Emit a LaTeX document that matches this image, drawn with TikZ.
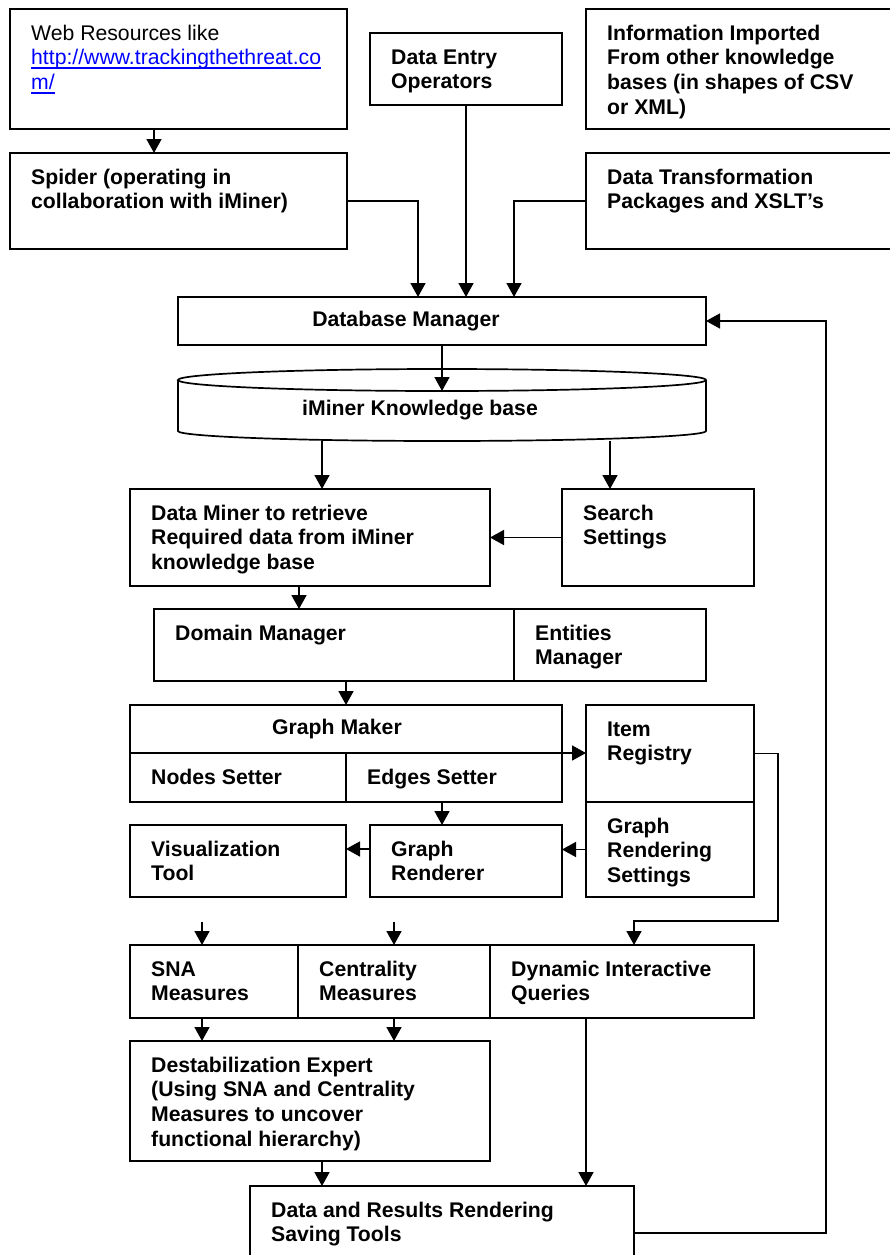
\documentclass[tikz,border=0pt]{standalone}
\usepackage{fontspec}
\setmainfont{Liberation Sans}
\usetikzlibrary{arrows.meta}
\definecolor{urlblue}{RGB}{0,0,255}
% box from (x1,y1) to (x2,y2), y measured downwards
\newcommand\blk[5]{\node[box, minimum width={(#4-#2)*1pt}, minimum height={(#5-#3)*1pt}] (#1) at ({(#2+#4)/2},{(#3+#5)/2}) {};}
% top-left label inside a box
\newcommand\lab[2]{\node[lbl] (#1-t) at ([xshift=21pt,yshift=-15pt]#1.north west) {\rule{0pt}{16pt}#2};}
% hyperlink-like underline crossing the descenders
\newcommand\ulink[1]{\setbox0\hbox{#1}\rlap{\rule[-4pt]{\wd0}{1.4pt}}\box0}
\tikzset{
  box/.style={draw, line width=1.7pt, inner sep=0pt, outer sep=0pt},
  lbl/.style={font=\bfseries\fontsize{21.2}{24.7}\selectfont, align=left, inner sep=0pt, anchor=north west},
  ctr/.style={font=\bfseries\fontsize{21.2}{24.7}\selectfont, inner sep=0pt},
  arr/.style={line width=1.6pt, -{Triangle[length=14pt,width=15pt]}}
}
\begin{document}
\begin{tikzpicture}[x=1pt, y=-1pt]
\fill[white] (0,0) rectangle (889,1255);
\useasboundingbox (0,0) rectangle (889,1255);

% ---------- sources ----------
\blk{web}{10}{9}{347}{129}
\blk{spider}{10}{153}{347}{249}
\blk{entry}{370}{33}{562}{105}
\blk{info}{586}{9}{900}{129}
\blk{xform}{586}{153}{900}{249}

% ---------- storage ----------
\blk{dbm}{178}{297}{706}{345}
\node[inner sep=0pt, outer sep=0pt, minimum width=528pt, minimum height=50pt] (kb) at (442,416) {};
\draw[line width=1.7pt] (178,380) -- (178,431)
  arc[start angle=180, end angle=360, x radius=264pt, y radius=10pt] -- (706,380)
  arc[start angle=0, end angle=180, x radius=264pt, y radius=11pt]
  arc[start angle=180, end angle=360, x radius=264pt, y radius=11pt];

% ---------- mining ----------
\blk{miner}{130}{489}{490}{586}
\blk{search}{562}{489}{754}{586}
\blk{domain}{154}{609}{514}{681}
\blk{entities}{514}{609}{706}{681}

% ---------- graph construction ----------
\blk{gmaker}{130}{705}{562}{753}
\blk{nodes}{130}{753}{346}{802}
\blk{edges}{346}{753}{562}{802}
\blk{registry}{586}{705}{754}{802}
\blk{grset}{586}{802}{754}{897}
\blk{vis}{130}{825}{346}{897}
\blk{grend}{370}{825}{562}{897}

% ---------- analysis ----------
\blk{sna}{130}{945}{298}{1018}
\blk{central}{298}{945}{490}{1018}
\blk{dynamic}{490}{945}{754}{1018}
\blk{destab}{130}{1041}{490}{1161}
\blk{results}{250}{1186}{634}{1280}

% ---------- labels ----------
\node[lbl, font=\fontsize{21.2}{24.7}\selectfont] (web-t) at ([xshift=21pt,yshift=-15pt]web.north west)
  {\rule{0pt}{16pt}Web Resources like\\
   \textcolor{urlblue}{\ulink{http://www.trackingthethreat.co}}\\
   \textcolor{urlblue}{\ulink{m/}}};
\lab{spider}{Spider (operating in\\collaboration with iMiner)}
\lab{entry}{Data Entry\\Operators}
\lab{info}{Information Imported\\From other knowledge\\bases (in shapes of CSV\\or XML)}
\lab{xform}{Data Transformation\\Packages and XSLT’s}
\node[ctr] (dbm-t) at (406,321) {Database Manager};
\node[ctr] (kb-t) at (420,410) {iMiner Knowledge base};
\lab{miner}{Data Miner to retrieve\\Required data from iMiner\\knowledge base}
\lab{search}{Search\\Settings}
\lab{domain}{Domain Manager}
\lab{entities}{Entities\\Manager}
\node[ctr] (gmaker-t) at (337,729) {Graph Maker};
\lab{nodes}{Nodes Setter}
\lab{edges}{Edges Setter}
\lab{registry}{Item\\Registry}
\lab{grset}{Graph\\Rendering\\Settings}
\lab{vis}{Visualization\\Tool}
\lab{grend}{Graph\\Renderer}
\lab{sna}{SNA\\Measures}
\lab{central}{Centrality\\Measures}
\lab{dynamic}{Dynamic Interactive\\Queries}
\lab{destab}{Destabilization Expert\\(Using SNA and Centrality\\Measures to uncover\\functional hierarchy)}
\lab{results}{Data and Results Rendering\\Saving Tools}

% ---------- connectors ----------
\draw[arr] ([xshift=-24.5pt]web.south) -- ([xshift=-24.5pt]spider.north);
\draw[arr] (spider.east) -| ([xshift=-24pt]dbm.north);
\draw[arr] (entry.south) -- (entry.south |- dbm.north);
\draw[arr] (xform.west) -| ([xshift=72pt]dbm.north);
\draw[arr] (dbm.south) -- (kb.north);
\coordinate (kbL) at ([xshift=-120pt]kb.south);
\coordinate (kbR) at ([xshift=168pt]kb.south);
\draw[arr] (kbL) -- (kbL |- miner.north);
\draw[arr] (kbR) -- (kbR |- search.north);
\draw[arr] (search.west) -- (miner.east |- search.west);
\coordinate (minOut) at ([xshift=-11pt]miner.south);
\draw[arr] (minOut) -- (minOut |- domain.north);
\draw[arr] (domain.south -| gmaker.north) -- (gmaker.north);
\draw[arr] (gmaker.south east) -- (registry.west |- gmaker.south east);
\coordinate (edgOut) at ([xshift=-12pt]edges.south);
\draw[arr] (edgOut) -- (edgOut |- grend.north);
\coordinate (grOut) at ([yshift=12pt]grend.west);
\draw[arr] (grOut) -- (vis.east |- grOut);
\draw[arr] (grset.west) -- (grend.east |- grset.west);
\draw[arr] (registry.east) -- ++(24pt,0pt) |- ([xshift=12pt,yshift=24pt]dynamic.north) -- ([xshift=12pt]dynamic.north);
\coordinate (inA) at ([xshift=-12pt,yshift=23pt]sna.north);
\coordinate (inB) at ([yshift=23pt]central.north);
\draw[arr] (inA) -- ([xshift=-12pt]sna.north);
\draw[arr] (inB) -- (central.north);
\coordinate (snaOut) at ([xshift=-12pt]sna.south);
\draw[arr] (snaOut) -- (snaOut |- destab.north);
\draw[arr] (central.south) -- (central.south |- destab.north);
\coordinate (desOut) at ([xshift=12pt]destab.south);
\draw[arr] (desOut) -- (desOut |- results.north);
\coordinate (dynOut) at ([xshift=-36pt]dynamic.south);
\draw[arr] (dynOut) -- (dynOut |- results.north);
\draw[arr] (results.east) -- ++(192pt,0pt) |- (dbm.east);
\end{tikzpicture}
\end{document}
